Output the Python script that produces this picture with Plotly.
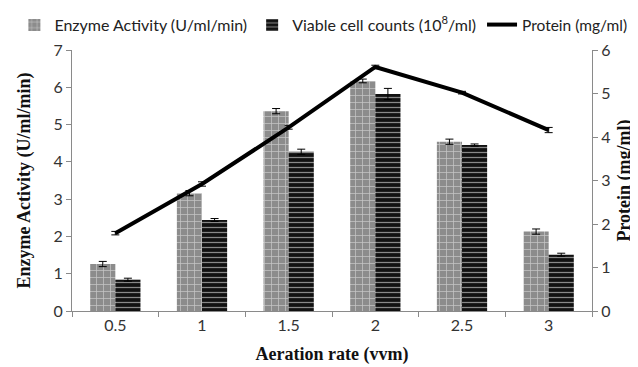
import plotly.graph_objects as go

categories = ["0.5", "1", "1.5", "2", "2.5", "3"]
enzyme = [1.26, 3.16, 5.36, 6.17, 4.54, 2.13]
enzyme_err = [0.07, 0.07, 0.07, 0.05, 0.07, 0.07]
viable = [0.84, 2.44, 4.27, 5.82, 4.45, 1.51]
viable_err = [0.04, 0.04, 0.07, 0.15, 0.03, 0.04]
protein = [1.79, 2.92, 4.22, 5.61, 5.02, 4.16]
protein_err = [0.04, 0.05, 0.04, 0.04, 0.03, 0.06]

tick_font = dict(family="Lato, Open Sans, sans-serif", size=16, color="#333333")
title_font = dict(family="Liberation Serif, Times New Roman, serif", size=18, color="#111111")
legend_font = dict(family="Lato, Open Sans, sans-serif", size=16, color="#222222")
legend2_font = dict(family="Lato, Open Sans, sans-serif", size=15.5, color="#222222")

fig = go.Figure()
fig.add_trace(go.Bar(
    x=categories, y=enzyme, name="Enzyme Activity (U/ml/min)", legend="legend",
    marker=dict(color="#8c8c8c", line=dict(width=0),
                pattern=dict(shape="+", fgcolor="white", bgcolor="#8c8c8c", size=7, solidity=0.2)),
    error_y=dict(type="data", array=enzyme_err, color="black", thickness=1, width=4),
))
fig.add_trace(go.Bar(
    x=categories, y=viable, name="Viable cell counts (10<sup>8</sup>/ml)", legend="legend",
    marker=dict(color="#111111", line=dict(width=0),
                pattern=dict(shape="-", fgcolor="white", bgcolor="#111111", size=5, solidity=0.25)),
    error_y=dict(type="data", array=viable_err, color="black", thickness=1, width=4),
))
fig.add_trace(go.Scatter(
    x=categories, y=protein, name="Protein (mg/ml)", yaxis="y2", mode="lines", legend="legend2",
    line=dict(color="black", width=4),
    error_y=dict(type="data", array=protein_err, color="black", thickness=1, width=4),
))

axis_common = dict(showgrid=False, zeroline=False, showline=True, linecolor="#8a8a8a",
                   linewidth=1, ticks="outside", ticklen=5, tickcolor="#8a8a8a",
                   tickfont=tick_font, automargin=False)

fig.update_layout(
    width=638, height=367,
    margin=dict(l=64, r=54, t=42, b=64, autoexpand=False),
    plot_bgcolor="white", paper_bgcolor="white",
    barmode="group", bargap=0.42, bargroupgap=0,
    showlegend=True,
    legend=dict(orientation="h", x=0.01, xanchor="left", xref="container",
                y=1.0, yanchor="top", yref="container", font=legend_font,
                itemwidth=30, traceorder="normal", bgcolor="rgba(0,0,0,0)"),
    legend2=dict(orientation="h", x=0.743, xanchor="left", xref="container",
                 y=1.0, yanchor="top", yref="container", font=legend2_font,
                 itemwidth=30, bgcolor="rgba(0,0,0,0)"),
    xaxis=dict(**axis_common, type="category", tickson="boundaries", range=[-0.5, 5.5],
               title=dict(text="<b>Aeration rate (vvm)</b>", font=title_font, standoff=14)),
    yaxis=dict(**axis_common, range=[0, 7], dtick=1,
               title=dict(text="<b>Enzyme Activity (U/ml/min)</b>", font=title_font, standoff=18)),
    yaxis2=dict(**axis_common, range=[0, 6], dtick=1, overlaying="y", side="right",
                title=dict(text="<b>Protein (mg/ml)</b>", font=title_font, standoff=7)),
)

fig.write_html("out.html")
